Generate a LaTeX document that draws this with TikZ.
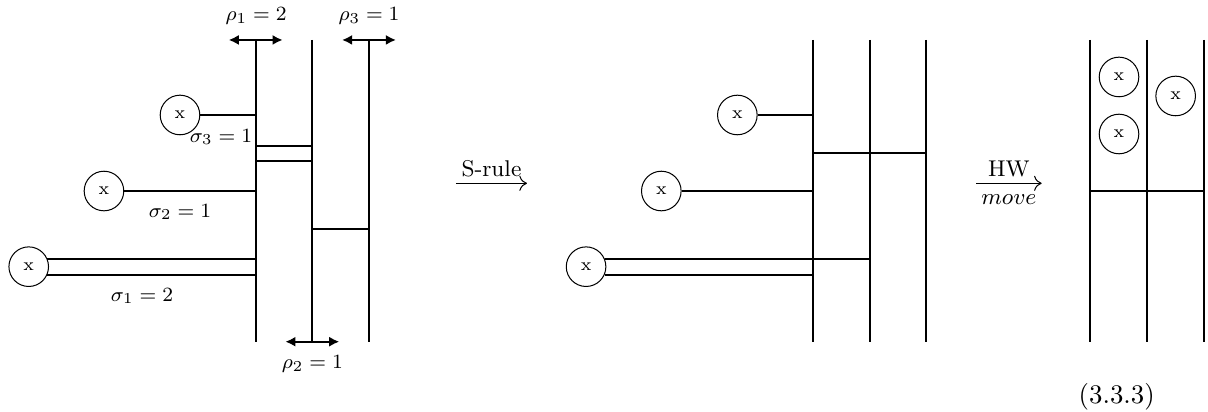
\documentclass[tikz,border=0pt]{standalone}
\usepackage{amsmath}
\usetikzlibrary{arrows.meta,positioning}

\tikzset{
    wire/.style={line width=0.8pt},
    vac/.style={draw, circle, line width=0.4pt, minimum size=0.55cm, inner sep=0pt, font=\scriptsize},
    width/.style={line width=0.8pt, {Latex[length=4pt,width=4pt]}-{Latex[length=4pt,width=4pt]}},
    lab/.style={font=\footnotesize},
    move/.style={line width=0.4pt, -{Computer Modern Rightarrow[length=3pt,width=6pt]}},
}

\begin{document}
\begin{tikzpicture}
    \def \ytop {5.167}
    \def \ybot {0.976}
    \def \d {0.787}
    \useasboundingbox (0,0) rectangle (16.778,5.722);
    % before: three branes with vacua attached
    \begin{scope}
    \foreach \i in {1,2,3}{
    \coordinate (a\i t) at ({3.551+(\i-1)*\d},\ytop);
    \coordinate (a\i b) at ({3.551+(\i-1)*\d},\ybot);
    \draw[wire] (a\i t) -- (a\i b);}
    \node[vac] (p3) at (2.500,4.125){x};
    \node[vac] (p2) at (1.444,3.069){x};
    \node[vac] (p1) at (0.399,2.018){x};
    \draw[wire] (p3) -- (p3 -| a1t);
    \draw[wire] (p2) -- (p2 -| a1t);
    \draw[wire] (p1.23) -- (p1.23 -| a1t);
    \draw[wire] (p1.-23) -- (p1.-23 -| a1t);
    \coordinate (c1) at (3.551,3.699);
    \coordinate (c2) at (3.551,3.486);
    \coordinate (c3) at (4.338,2.542);
    \draw[wire] (c1) -- (c1 -| a2t);
    \draw[wire] (c2) -- (c2 -| a2t);
    \draw[wire] (c3) -- (c3 -| a3t);
    \draw[width] ([xshift=-0.375cm]a1t) -- ([xshift=0.375cm]a1t);
    \draw[width] ([xshift=-0.375cm]a3t) -- ([xshift=0.375cm]a3t);
    \draw[width] ([xshift=-0.375cm]a2b) -- ([xshift=0.375cm]a2b);
    \node[lab] (r1) at (3.556,5.50){$\rho_1 = 2$};
    \node[lab] (r3) at (5.125,5.50){$\rho_3 = 1$};
    \node[lab] (r2) at (4.338,0.667){$\rho_2 = 1$};
    \node[lab] (s3) at (3.069,3.819){$\sigma_3 = 1$};
    \node[lab] (s2) at (2.500,2.778){$\sigma_2 = 1$};
    \node[lab] (s1) at (1.972,1.611){$\sigma_1 = 2$};
    \end{scope}
    \coordinate (m1) at (6.333,3.176);
    \coordinate (m2) at (7.319,3.176);
    \draw[move] (m1) -- (m2) node[midway, above=-1pt]{\small S-rule};
    % after the S-rule
    \begin{scope}[xshift=7.741cm]
    \foreach \i in {1,2,3}{
    \coordinate (b\i t) at ({3.551+(\i-1)*\d},\ytop);
    \coordinate (b\i b) at ({3.551+(\i-1)*\d},\ybot);
    \draw[wire] (b\i t) -- (b\i b);}
    \node[vac] (q3) at (2.500,4.125){x};
    \node[vac] (q2) at (1.444,3.069){x};
    \node[vac] (q1) at (0.399,2.018){x};
    \draw[wire] (q3) -- (q3 -| b1t);
    \draw[wire] (q2) -- (q2 -| b1t);
    \draw[wire] (q1.23) -- (q1.23 -| b2t);
    \draw[wire] (q1.-23) -- (q1.-23 -| b1t);
    \coordinate (e1) at (3.551,3.593);
    \draw[wire] (e1) -- (e1 -| b3t);
    \end{scope}
    \coordinate (n1) at (13.556,3.176);
    \coordinate (n2) at (14.468,3.176);
    \draw[move] (n1) -- (n2) node[midway, above=-1pt]{\small HW}
        node[midway, below=1pt]{\small$move$};
    % after the HW move
    \begin{scope}[xshift=11.592cm]
    \foreach \i in {1,2,3}{
    \coordinate (f\i t) at ({3.551+(\i-1)*\d},\ytop);
    \coordinate (f\i b) at ({3.551+(\i-1)*\d},\ybot);
    \draw[wire] (f\i t) -- (f\i b);}
    \coordinate (g1) at (3.551,3.069);
    \draw[wire] (g1) -- (g1 -| f3t);
    \node[vac] (u1) at (3.950,4.653){x};
    \node[vac] (u2) at (3.950,3.861){x};
    \node[vac] (u3) at (4.737,4.389){x};
    \end{scope}
    \node[font=\fontsize{10.6}{13}\selectfont] (eqno) at (15.51,0.2125){(3.3.3)};
\end{tikzpicture}
\end{document}
